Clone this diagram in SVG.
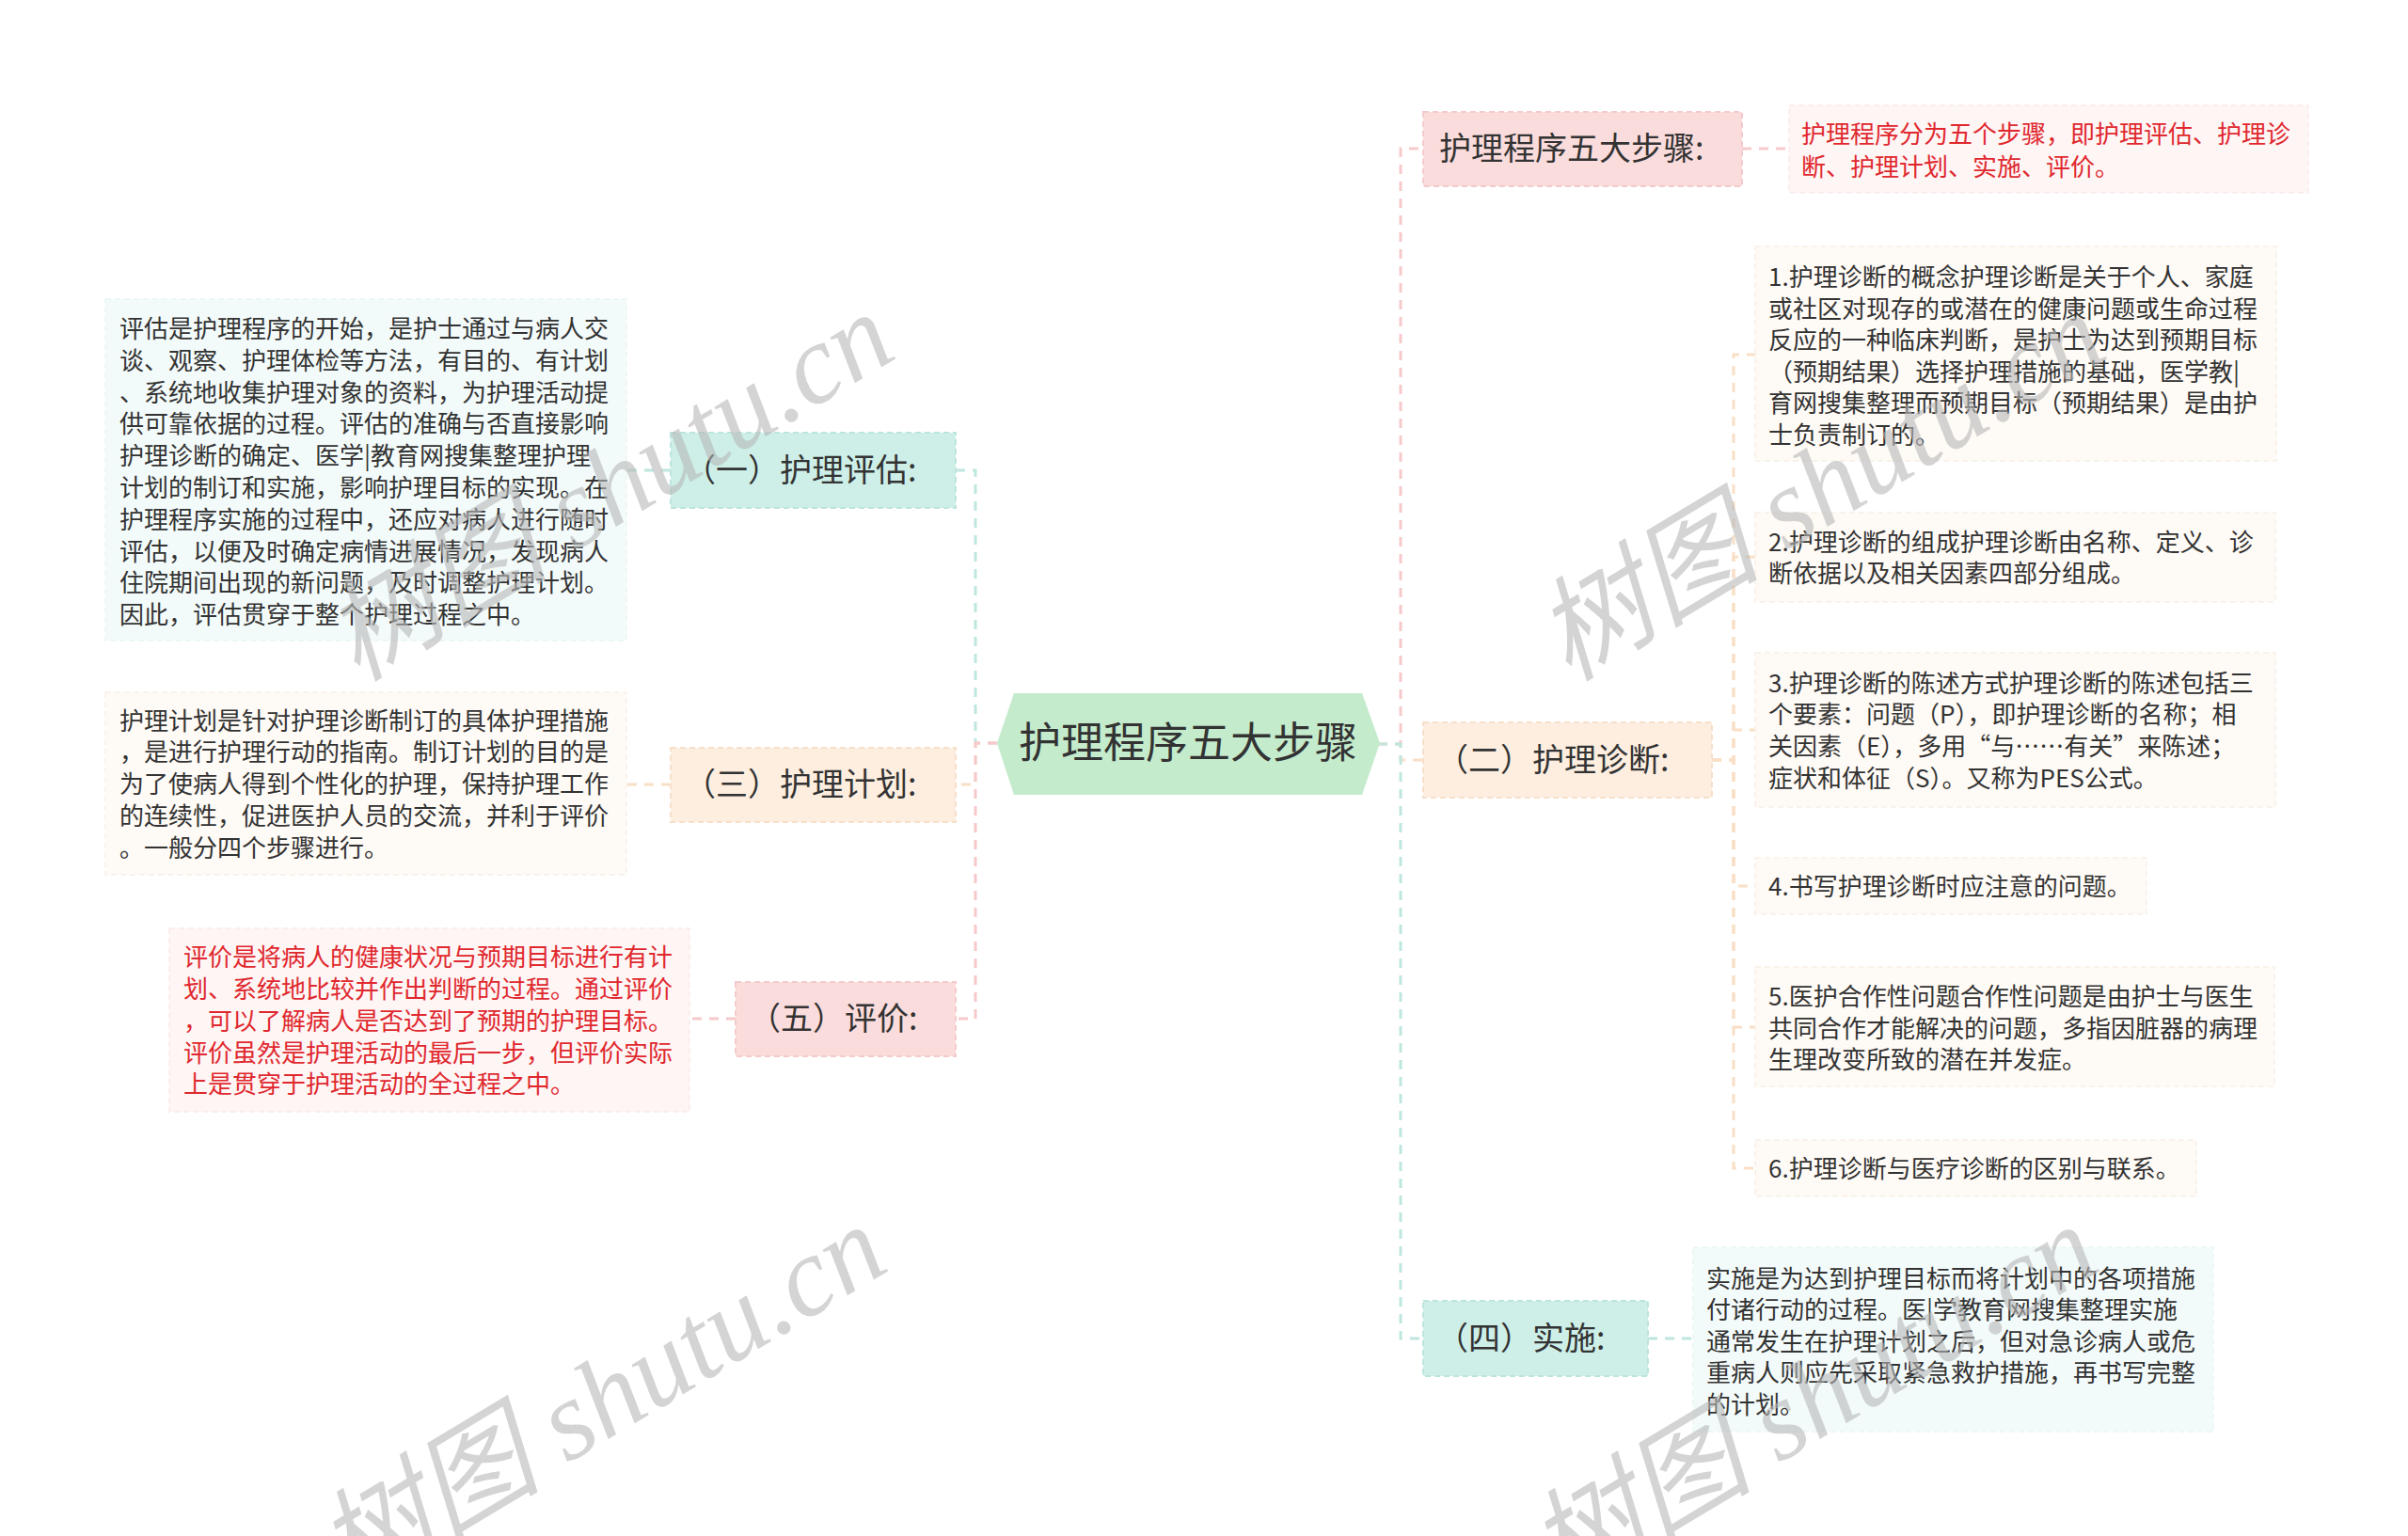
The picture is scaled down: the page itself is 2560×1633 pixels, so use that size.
<svg xmlns="http://www.w3.org/2000/svg" width="2560" height="1633" viewBox="0 0 2560 1633">
<style>
text{font-family:"Noto Sans CJK SC","Noto Sans",sans-serif;fill:#333333}
.t{font-size:26px}
.red{fill:#e0282e}
.n{font-size:34px}
.c{font-size:45px}
.ln{fill:none;stroke-width:3;stroke-dasharray:10 8}
.lt{stroke:#bfe6df}
.lp{stroke:#f6c9cb}
.lo{stroke:#f9dfc6}
.nt{fill:#cdefe8;stroke:#bde5dd;stroke-width:2;stroke-dasharray:6 4}
.np{fill:#fbdcdc;stroke:#f4cbcc;stroke-width:2;stroke-dasharray:6 4}
.no{fill:#fdeee0;stroke:#f6e0cb;stroke-width:2;stroke-dasharray:6 4}
.bt{fill:#f3fbfa;stroke:#eaf6f4;stroke-width:1.5;stroke-dasharray:6 4}
.bp{fill:#fef5f5;stroke:#fbeaea;stroke-width:1.5;stroke-dasharray:6 4}
.bo{fill:#fefaf5;stroke:#f9f0e6;stroke-width:1.5;stroke-dasharray:6 4}
.wm{font-family:"Liberation Serif","Noto Sans CJK SC",serif;font-style:italic;font-size:120px;fill:#b8b8b8;fill-opacity:0.6}
</style>
<rect width="2560" height="1633" fill="#ffffff"/>
<g id="connectors">
<path class="ln lt" d="M1060,790 H1037 V500 H1016"/>
<path class="ln lo" d="M1060,790 H1037 V834 H1016"/>
<path class="ln lp" d="M1060,790 H1037 V1083 H1016"/>
<path class="ln lt" d="M713,500 H666"/>
<path class="ln lo" d="M713,834 H666"/>
<path class="ln lp" d="M782,1083 H733"/>
<path class="ln lp" d="M1465,791 H1489 V158 H1513"/>
<path class="ln lo" d="M1465,791 H1489 V808 H1513"/>
<path class="ln lt" d="M1465,791 H1489 V1423 H1513"/>
<path class="ln lp" d="M1852,158 H1902"/>
<path class="ln lt" d="M1752,1423 H1800"/>
<path class="ln lo" d="M1820,808 H1843 V377 H1866"/>
<path class="ln lo" d="M1820,808 H1843 V592 H1866"/>
<path class="ln lo" d="M1820,808 H1843 V776 H1866"/>
<path class="ln lo" d="M1820,808 H1843 V942 H1866"/>
<path class="ln lo" d="M1820,808 H1843 V1092 H1866"/>
<path class="ln lo" d="M1820,808 H1843 V1242 H1866"/>
</g>
<g id="root">
<polygon points="1060,790 1078,737 1448,737 1467,790 1448,845 1078,845" fill="#c4ebcb"/>
<text class="c" x="1263" y="806" text-anchor="middle">护理程序五大步骤</text>
</g>
<g id="n-pinggu">
<rect class="nt" x="713" y="460" width="303" height="80"/>
<text class="n" x="727" y="512">（一）护理评估:</text>
</g>
<g id="t-pinggu">
<rect class="bt" x="112" y="318" width="554" height="363"/>
<text class="t" x="127" y="359">评估是护理程序的开始，是护士通过与病人交</text>
<text class="t" x="127" y="393">谈、观察、护理体检等方法，有目的、有计划</text>
<text class="t" x="127" y="427">、系统地收集护理对象的资料，为护理活动提</text>
<text class="t" x="127" y="460">供可靠依据的过程。评估的准确与否直接影响</text>
<text class="t" x="127" y="494">护理诊断的确定、医学|教育网搜集整理护理</text>
<text class="t" x="127" y="528">计划的制订和实施，影响护理目标的实现。在</text>
<text class="t" x="127" y="562">护理程序实施的过程中，还应对病人进行随时</text>
<text class="t" x="127" y="596">评估，以便及时确定病情进展情况，发现病人</text>
<text class="t" x="127" y="629">住院期间出现的新问题，及时调整护理计划。</text>
<text class="t" x="127" y="663">因此，评估贯穿于整个护理过程之中。</text>
</g>
<g id="n-jihua">
<rect class="no" x="713" y="795" width="303" height="79"/>
<text class="n" x="727" y="846">（三）护理计划:</text>
</g>
<g id="t-jihua">
<rect class="bo" x="112" y="736" width="554" height="194"/>
<text class="t" x="127" y="776">护理计划是针对护理诊断制订的具体护理措施</text>
<text class="t" x="127" y="809">，是进行护理行动的指南。制订计划的目的是</text>
<text class="t" x="127" y="843">为了使病人得到个性化的护理，保持护理工作</text>
<text class="t" x="127" y="877">的连续性，促进医护人员的交流，并利于评价</text>
<text class="t" x="127" y="911">。一般分四个步骤进行。</text>
</g>
<g id="n-pingjia">
<rect class="np" x="782" y="1044" width="234" height="79"/>
<text class="n" x="796" y="1095">（五）评价:</text>
</g>
<g id="t-pingjia">
<rect class="bp" x="180" y="987" width="553" height="195"/>
<text class="t red" x="195" y="1027">评价是将病人的健康状况与预期目标进行有计</text>
<text class="t red" x="195" y="1061">划、系统地比较并作出判断的过程。通过评价</text>
<text class="t red" x="195" y="1095">，可以了解病人是否达到了预期的护理目标。</text>
<text class="t red" x="195" y="1129">评价虽然是护理活动的最后一步，但评价实际</text>
<text class="t red" x="195" y="1162">上是贯穿于护理活动的全过程之中。</text>
</g>
<g id="n-buzhou">
<rect class="np" x="1513" y="119" width="339" height="79"/>
<text class="n" x="1530" y="170">护理程序五大步骤:</text>
</g>
<g id="t-buzhou">
<rect class="bp" x="1902" y="112" width="552" height="93"/>
<text class="t red" x="1915" y="152">护理程序分为五个步骤，即护理评估、护理诊</text>
<text class="t red" x="1915" y="187">断、护理计划、实施、评价。</text>
</g>
<g id="n-zhenduan">
<rect class="no" x="1513" y="768" width="307" height="80"/>
<text class="n" x="1527" y="820">（二）护理诊断:</text>
</g>
<g id="t-zd1">
<rect class="bo" x="1866" y="262" width="554" height="228"/>
<text class="t" x="1880" y="304">1.护理诊断的概念护理诊断是关于个人、家庭</text>
<text class="t" x="1880" y="338">或社区对现存的或潜在的健康问题或生命过程</text>
<text class="t" x="1880" y="371">反应的一种临床判断，是护士为达到预期目标</text>
<text class="t" x="1880" y="405">（预期结果）选择护理措施的基础，医学教|</text>
<text class="t" x="1880" y="438">育网搜集整理而预期目标（预期结果）是由护</text>
<text class="t" x="1880" y="472">士负责制订的。</text>
</g>
<g id="t-zd2">
<rect class="bo" x="1866" y="545" width="553" height="95"/>
<text class="t" x="1880" y="586">2.护理诊断的组成护理诊断由名称、定义、诊</text>
<text class="t" x="1880" y="619">断依据以及相关因素四部分组成。</text>
</g>
<g id="t-zd3">
<rect class="bo" x="1866" y="694" width="553" height="164"/>
<text class="t" x="1880" y="736">3.护理诊断的陈述方式护理诊断的陈述包括三</text>
<text class="t" x="1880" y="769">个要素：问题（P），即护理诊断的名称；相</text>
<text class="t" x="1880" y="803">关因素（E），多用“与……有关”来陈述；</text>
<text class="t" x="1880" y="837">症状和体征（S）。又称为PES公式。</text>
</g>
<g id="t-zd4">
<rect class="bo" x="1866" y="912" width="416" height="60"/>
<text class="t" x="1880" y="952">4.书写护理诊断时应注意的问题。</text>
</g>
<g id="t-zd5">
<rect class="bo" x="1866" y="1028" width="552" height="127"/>
<text class="t" x="1880" y="1069">5.医护合作性问题合作性问题是由护士与医生</text>
<text class="t" x="1880" y="1103">共同合作才能解决的问题，多指因脏器的病理</text>
<text class="t" x="1880" y="1136">生理改变所致的潜在并发症。</text>
</g>
<g id="t-zd6">
<rect class="bo" x="1866" y="1212" width="469" height="60"/>
<text class="t" x="1880" y="1252">6.护理诊断与医疗诊断的区别与联系。</text>
</g>
<g id="n-shishi">
<rect class="nt" x="1513" y="1383" width="239" height="80"/>
<text class="n" x="1527" y="1435">（四）实施:</text>
</g>
<g id="t-shishi">
<rect class="bt" x="1800" y="1326" width="553" height="196"/>
<text class="t" x="1814" y="1369">实施是为达到护理目标而将计划中的各项措施</text>
<text class="t" x="1814" y="1402">付诸行动的过程。医|学教育网搜集整理实施</text>
<text class="t" x="1814" y="1436">通常发生在护理计划之后，但对急诊病人或危</text>
<text class="t" x="1814" y="1469">重病人则应先采取紧急救护措施，再书写完整</text>
<text class="t" x="1814" y="1503">的计划。</text>
</g>
<g id="watermarks">
<text class="wm" text-anchor="middle" transform="translate(668,552) rotate(-31)">树图 shutu.cn</text>
<text class="wm" text-anchor="middle" transform="translate(1956,552) rotate(-31)">树图 shutu.cn</text>
<text class="wm" text-anchor="middle" transform="translate(660,1522) rotate(-31)">树图 shutu.cn</text>
<text class="wm" text-anchor="middle" transform="translate(1948,1522) rotate(-31)">树图 shutu.cn</text>
</g>
</svg>
